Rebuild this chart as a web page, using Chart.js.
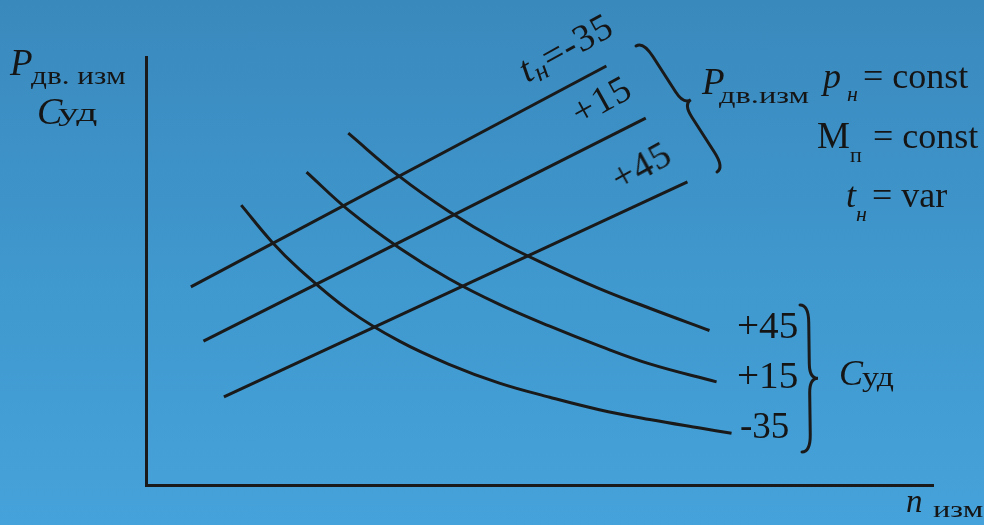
<!DOCTYPE html>
<html>
<head>
<meta charset="utf-8">
<script src="https://cdn.jsdelivr.net/npm/chart.js@4.4.1/dist/chart.umd.min.js"></script>
<style>
  html, body { margin: 0; padding: 0; }
  body {
    width: 984px; height: 525px; overflow: hidden; position: relative;
    background: linear-gradient(to bottom, #3a89bd 0%, #409ad0 60%, #46a2da 100%);
    font-family: "Liberation Serif", "DejaVu Serif", serif; color: #151515;
  }
  #grafico { position: absolute; left: 0; top: 0; }
  .lbl { position: absolute; line-height: 1; white-space: nowrap; }
  .rot { position: absolute; line-height: 1; white-space: nowrap; transform-origin: 0 84%; letter-spacing: 1px; }
  .larga { display: inline-block; transform-origin: 0 0; }
  i { font-style: italic; }
  .sub { position: relative; }
</style>
</head>
<body>
<canvas id="grafico" width="984" height="525"></canvas>
<div id="textos"></div>
<script>
// Dados (unidades arbitrárias: x 0..100, y 0..100)
// Retas P_дв.изм para cada t_н
const powerM35X = [5.7, 58.5];
const powerM35Y = [46.3, 97.9];
const powerP15X = [7.3, 63.5];
const powerP15Y = [33.6, 85.7];
const powerP45X = [9.9, 68.8];
const powerP45Y = [20.6, 70.8];

// Curvas C_уд para cada t_н
const fuelP45X = [25.7, 32.2, 38.5, 44.9, 51.3, 57.6, 64.0, 71.6];
const fuelP45Y = [82.2, 72.1, 63.9, 56.9, 51.1, 45.9, 41.3, 36.1];
const fuelP15X = [20.4, 25.8, 32.2, 38.5, 44.9, 51.3, 57.6, 64.0, 72.5];
const fuelP15Y = [73.1, 64.1, 55.4, 48.2, 42.2, 37.1, 32.5, 28.3, 24.1];
const fuelM35X = [12.1, 16.0, 19.5, 25.8, 32.2, 38.5, 44.9, 51.3, 57.6, 64.0, 70.4, 74.4];
const fuelM35Y = [65.4, 56.8, 50.4, 40.8, 33.6, 28.2, 23.8, 20.5, 17.6, 15.3, 13.3, 12.1];

const tempLabels = ['-35', '+15', '+45'];

const corLinha = '#1a1a1a';

function pontos(xs, ys) {
  return xs.map((x, i) => ({ x: x, y: ys[i] }));
}

function serie(nome, xs, ys, curva) {
  return {
    label: nome,
    data: pontos(xs, ys),
    borderColor: corLinha,
    borderWidth: 3,
    pointRadius: 0,
    fill: false,
    tension: curva ? 0.4 : 0
  };
}

// Chaves "}" desenhadas no canvas
function chave(ctx, x1, y1, x2, y2, d) {
  const L = Math.hypot(x2 - x1, y2 - y1);
  const ang = Math.atan2(y2 - y1, x2 - x1);
  const w = d * 0.5;
  ctx.save();
  ctx.translate(x1, y1);
  ctx.rotate(ang);
  ctx.beginPath();
  ctx.moveTo(0, 0);
  ctx.quadraticCurveTo(0, w, L * 0.12, w);
  ctx.lineTo(L * 0.4, w);
  ctx.quadraticCurveTo(L * 0.5, w, L * 0.5, d);
  ctx.quadraticCurveTo(L * 0.5, w, L * 0.6, w);
  ctx.lineTo(L * 0.88, w);
  ctx.quadraticCurveTo(L, w, L, 0);
  ctx.strokeStyle = corLinha;
  ctx.lineWidth = 3;
  ctx.lineCap = 'round';
  ctx.stroke();
  ctx.restore();
}

const pluginChaves = {
  id: 'chaves',
  afterDraw(chart) {
    const ctx = chart.ctx;
    chave(ctx, 636, 46, 717, 172, -17);
    chave(ctx, 800, 305, 802, 452, -17);
  }
};

const ctx = document.getElementById('grafico').getContext('2d');
const grafico = new Chart(ctx, {
  type: 'line',
  data: {
    datasets: [
      serie('P ' + tempLabels[0], powerM35X, powerM35Y, false),
      serie('P ' + tempLabels[1], powerP15X, powerP15Y, false),
      serie('P ' + tempLabels[2], powerP45X, powerP45Y, false),
      serie('C ' + tempLabels[2], fuelP45X, fuelP45Y, true),
      serie('C ' + tempLabels[1], fuelP15X, fuelP15Y, true),
      serie('C ' + tempLabels[0], fuelM35X, fuelM35Y, true)
    ]
  },
  options: {
    responsive: false,
    animation: false,
    layout: { padding: { left: 146, right: 51, top: 57, bottom: 40 } },
    plugins: { legend: { display: false }, tooltip: { enabled: false } },
    scales: {
      x: {
        type: 'linear', min: 0, max: 100,
        grid: { display: false, drawTicks: false },
        ticks: { display: false },
        border: { color: corLinha, width: 3 }
      },
      y: {
        type: 'linear', min: 0, max: 100,
        grid: { display: false, drawTicks: false },
        ticks: { display: false },
        border: { color: corLinha, width: 3 }
      }
    }
  },
  plugins: [pluginChaves]
});

// Textos (posicionados pela linha de base)
const textos = document.getElementById('textos');
function texto(html, x, base, tam, cls, largura) {
  const el = document.createElement('div');
  el.className = cls || 'lbl';
  el.style.left = x + 'px';
  el.style.top = (base - 0.8375 * tam) + 'px';
  el.style.fontSize = tam + 'px';
  if (largura) {
    el.innerHTML = '<span class="larga" style="transform:scaleX(' + largura + ')">' + html + '</span>';
  } else {
    el.innerHTML = html;
  }
  textos.appendChild(el);
  return el;
}

// rótulos do eixo y
texto('<i>P</i>', 10, 75, 37);
texto('дв. изм', 31, 84, 25, null, 1.25);
texto('<i>C</i>', 37, 124, 38);
texto('уд', 58, 122, 26, null, 1.6);

// eixo x
texto('<i>n</i>', 906, 513, 33);
texto('изм', 933, 517, 24, null, 1.35);

// rótulos das retas (inclinados)
const rot = -29;
texto('<i>t</i><span class="sub" style="font-size:27px;top:5px"><i>н</i></span>=-35', 527, 83, 38, 'rot').style.transform = 'rotate(' + rot + 'deg)';
texto('+' + '15', 580, 126, 38, 'rot').style.transform = 'rotate(' + rot + 'deg)';
texto('+' + '45', 620, 192, 38, 'rot').style.transform = 'rotate(' + rot + 'deg)';

// legenda P à direita
texto('<i>P</i>', 702, 94, 37);
texto('дв.изм', 719, 103, 24, null, 1.35);
texto('<i>p</i>', 823, 88, 36);
texto('<i>н</i>', 847, 101, 22);
texto('= const', 863, 88, 36);
texto('M', 817, 148, 37);
texto('п', 850, 162, 22);
texto('= const', 873, 148, 36);
texto('<i>t</i>', 846, 207, 36);
texto('<i>н</i>', 856, 221, 22);
texto('= var', 872, 207, 36);

// rótulos das curvas
texto(tempLabels[2], 737, 338, 37, null, 1.06);
texto(tempLabels[1], 737, 388, 37, null, 1.06);
texto(tempLabels[0], 740, 438, 37);
texto('<i>C</i>', 839, 385, 36);
texto('уд', 862, 387, 27, null, 1.25);
</script>
</body>
</html>
